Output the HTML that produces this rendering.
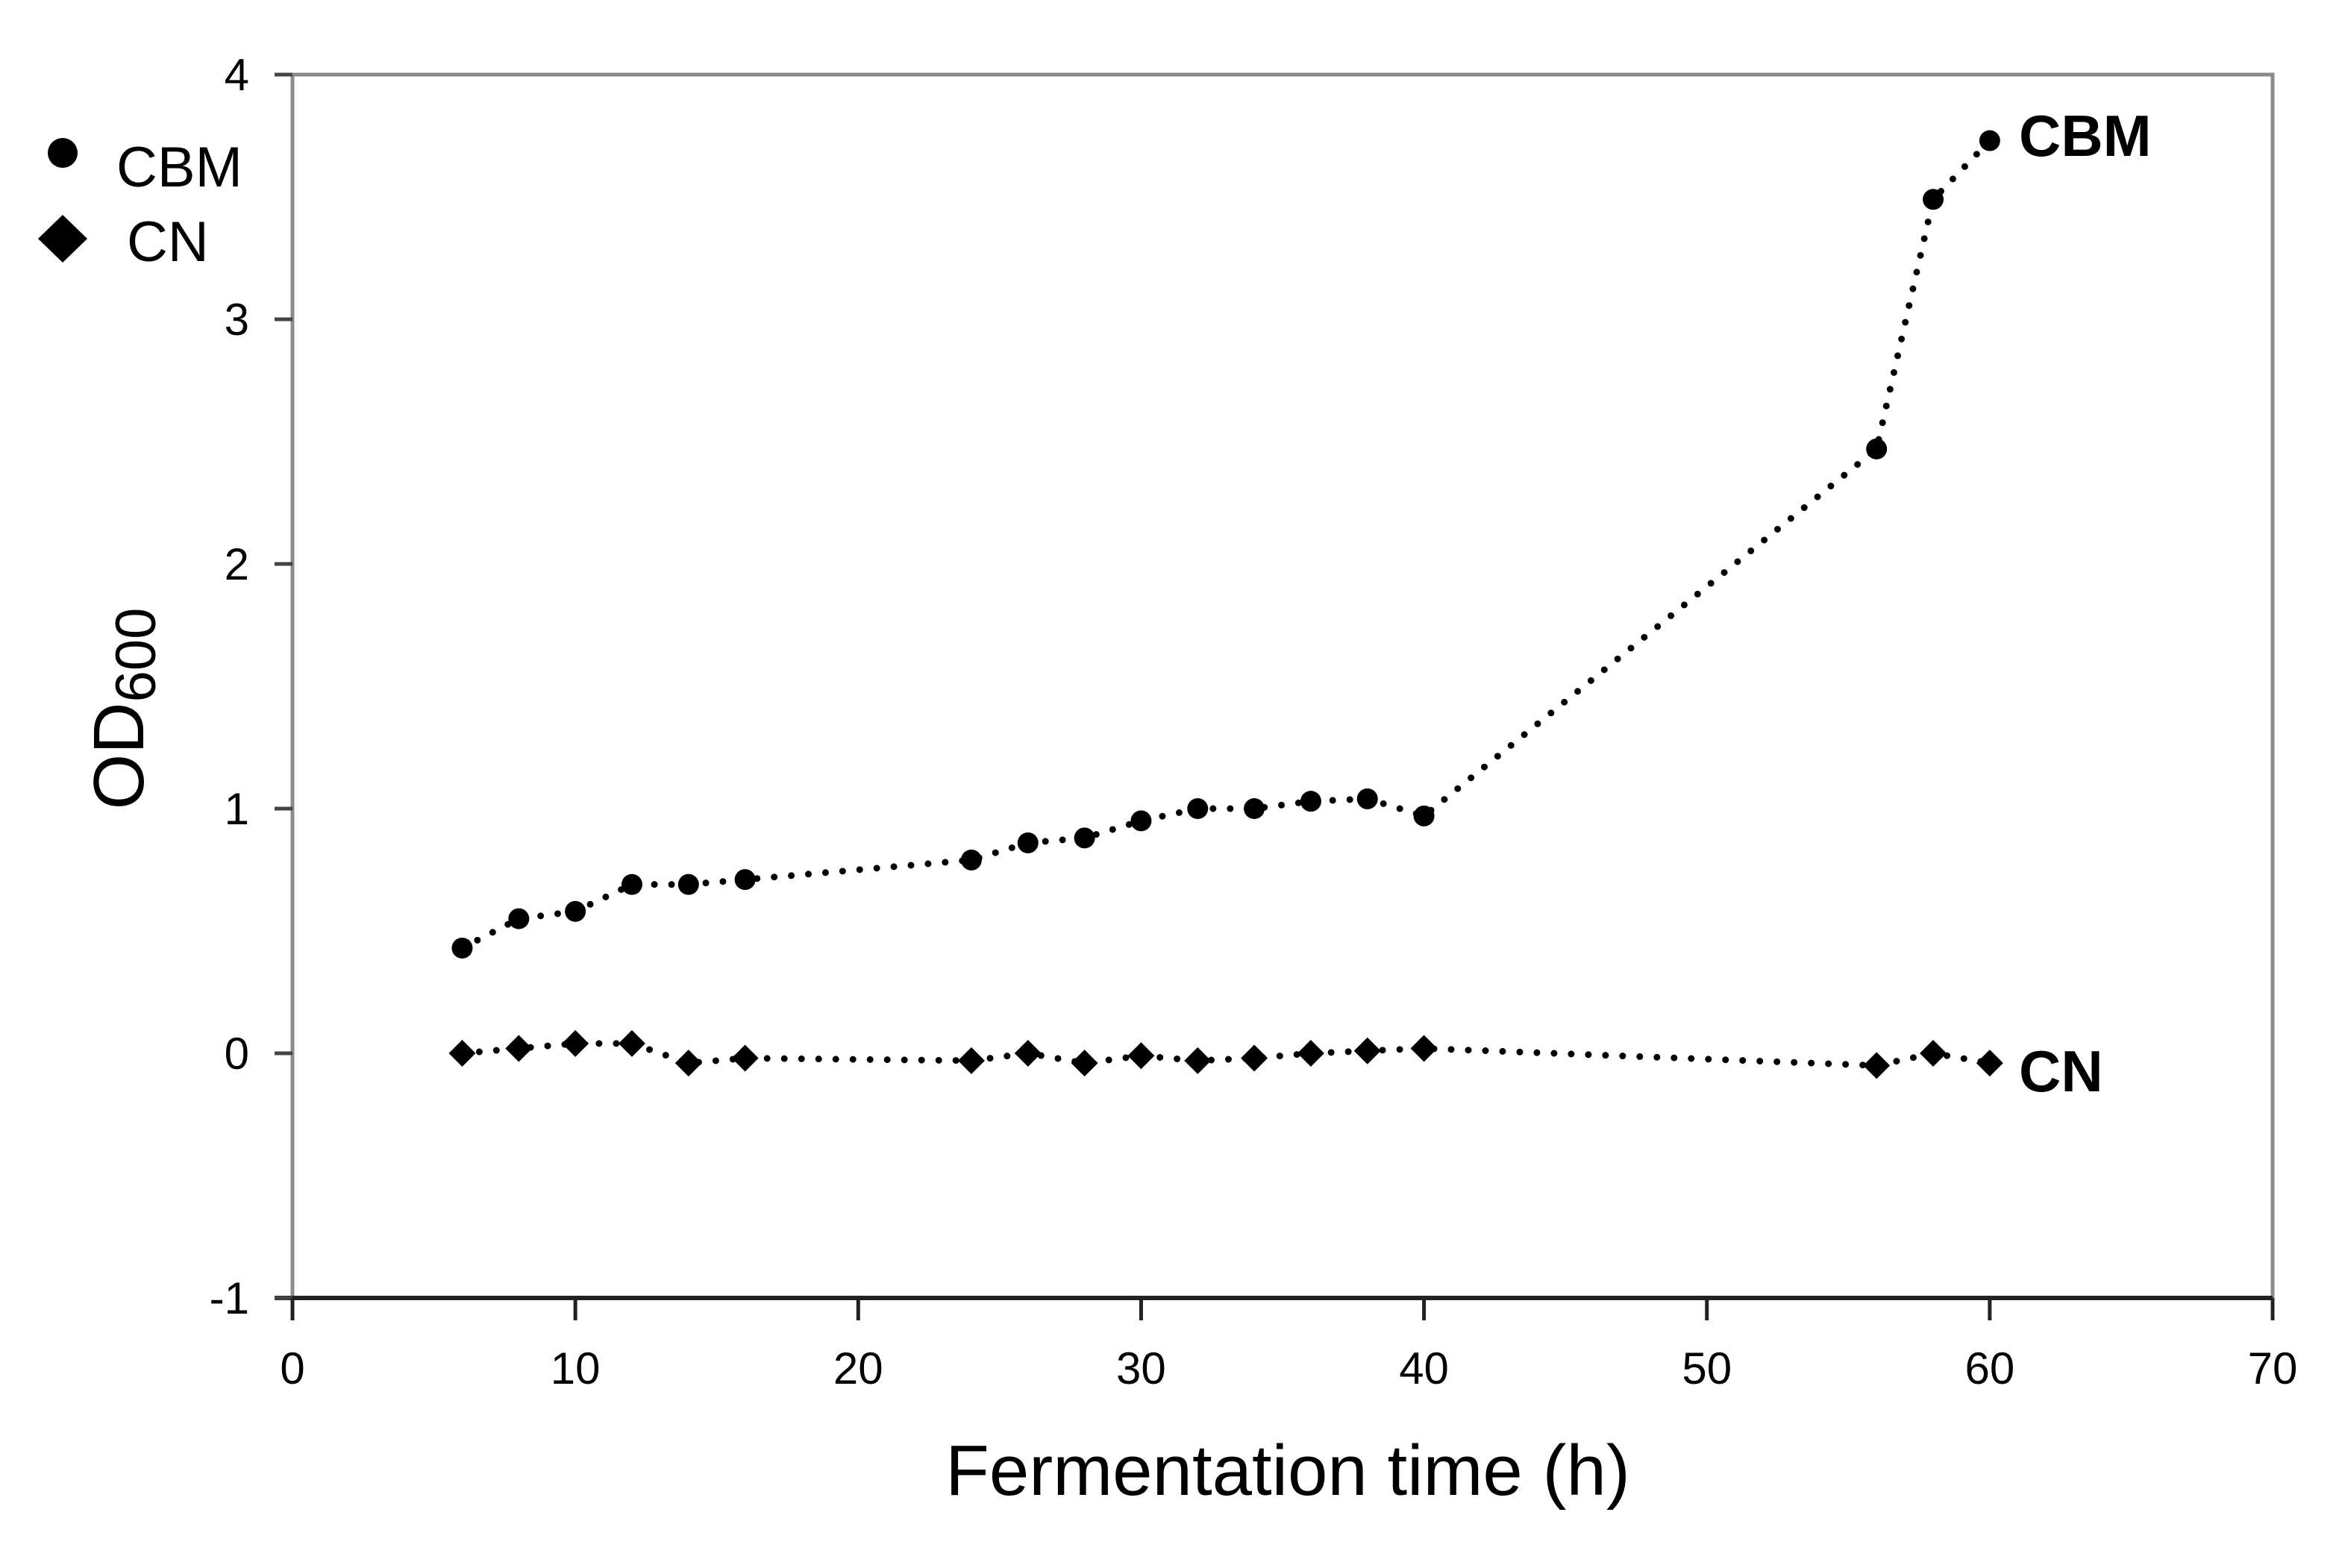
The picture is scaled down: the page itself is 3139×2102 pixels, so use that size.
<!DOCTYPE html>
<html><head><meta charset="utf-8"><style>
html,body{margin:0;padding:0;background:#fff;}
svg{display:block;font-family:"Liberation Sans",sans-serif;}
</style></head><body>
<svg id="chart" width="3139" height="2102" viewBox="0 0 3139 2102">
<g id="axes"></g><g id="series"></g>
<g>
<circle cx="84" cy="205" r="20" fill="#000"/>
<text x="156" y="250" font-size="76">CBM</text>
<polygon points="84,288 117,320 84,352 51,320" fill="#000"/>
<text x="170" y="350" font-size="76">CN</text>
</g>
<text x="2706" y="209" font-size="78" font-weight="bold">CBM</text>
<text x="2706" y="1463" font-size="78" font-weight="bold">CN</text>
<text x="1726" y="2004" font-size="96" text-anchor="middle">Fermentation time (h)</text>
<text transform="translate(192,950) rotate(-90)" font-size="96" text-anchor="middle">OD<tspan font-size="76" dy="16">600</tspan></text>
</svg>
<script>
const times=[6,8,10,12,14,16,24,26,28,30,32,34,36,38,40,56,58,60];
const cbmValues=[0.43,0.55,0.58,0.69,0.69,0.71,0.79,0.86,0.88,0.95,1.0,1.0,1.03,1.04,0.97,2.47,3.49,3.73];
const cnValues=[0,0.02,0.04,0.04,-0.04,-0.02,-0.03,0,-0.04,-0.01,-0.03,-0.02,0,0.01,0.02,-0.05,0,-0.04];
const xTicks=[0,10,20,30,40,50,60,70];
const yTicks=[-1,0,1,2,3,4];
const NS='http://www.w3.org/2000/svg';
const L=392,R=3046,T=100,B=1740;
function xs(v){return L+(v-0)/(70-0)*(R-L);}
function ys(v){return B-(v+1)/(4+1)*(B-T);}
function mk(tag,attrs,parent){const e=document.createElementNS(NS,tag);for(const k in attrs)e.setAttribute(k,attrs[k]);parent.appendChild(e);return e;}
const ax=document.getElementById('axes');
let e=mk('rect',{x:L,y:T,width:R-L,height:B-T,fill:'none',stroke:'#8a8a8a','stroke-width':5},ax);


e=mk('line',{x1:L-24,y1:B,x2:R,y2:B,stroke:'#222','stroke-width':6},ax);


yTicks.forEach(v=>{
  const t=mk('line',{x1:L-24,y1:ys(v),x2:L,y2:ys(v),stroke:'#444','stroke-width':5},ax);
  
  
  const l=mk('text',{x:L-58,y:ys(v)+21,'font-size':60,'text-anchor':'end'},ax);
  l.textContent=v;
  
  
});
xTicks.forEach(v=>{
  const t=mk('line',{x1:xs(v),y1:B,x2:xs(v),y2:B+30,stroke:'#222','stroke-width':5},ax);
  
  
  const l=mk('text',{x:xs(v),y:B+115,'font-size':60,'text-anchor':'middle'},ax);
  l.textContent=v;
  
  
});
const sg=document.getElementById('series');
function drawSeries(vals,name,shape){
  const pts=times.map((t,i)=>xs(t)+','+ys(vals[i])).join(' ');
  const pl=mk('polyline',{points:pts,fill:'none',stroke:'#000','stroke-width':9,'stroke-linecap':'round','stroke-dasharray':'0 23'},sg);
  
  
  times.forEach((t,i)=>{
    const x=xs(t),y=ys(vals[i]);let m;
    if(shape==='circle') m=mk('circle',{cx:x,cy:y,r:14,fill:'#000'},sg);
    else m=mk('polygon',{points:`${x},${y-18} ${x+18},${y} ${x},${y+18} ${x-18},${y}`,fill:'#000'},sg);
    
    
  });
}
drawSeries(cbmValues,'cbm','circle');
drawSeries(cnValues,'cn','diamond');
</script>
</body></html>
